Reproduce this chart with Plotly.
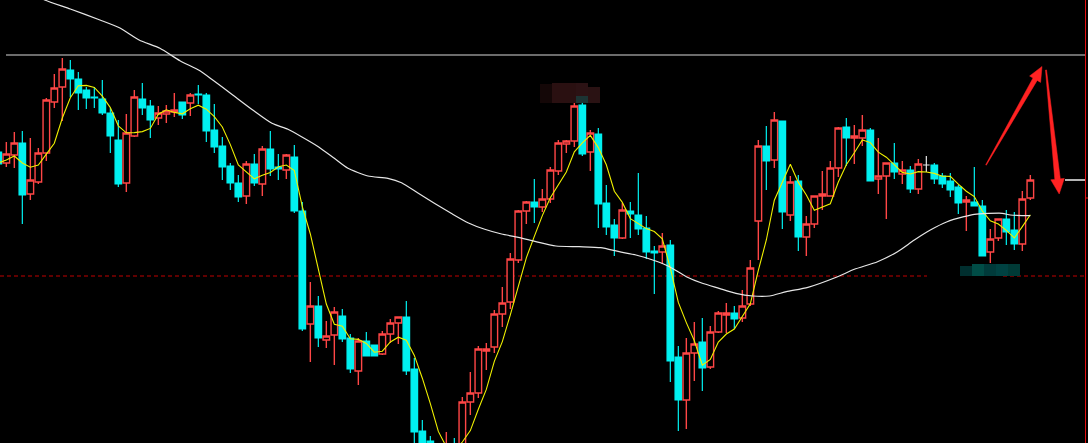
import plotly.graph_objects as go
import pandas as pd

W, H = 1088, 443

# ---------------- data (price units, arbitrary scale) ----------------
open_ = [308, 297, 305, 317, 266, 278, 307, 358, 373, 390,
         381, 370, 363, 361, 347, 320, 277, 324, 361, 354,
         342, 346, 348, 358, 357, 366, 365, 330, 314, 294,
         277, 264, 296, 276, 311, 293, 290, 303, 249, 136,
         154, 120, 125, 144, 122, 89, 119, 115, 106, 126,
         137, 143, 91, 29, 19, 10, 5, 14, 10, 58,
         67, 109, 113, 146, 158, 200, 249, 258, 253, 261,
         289, 316, 319, 355, 308, 326, 257, 235, 222, 249,
         245, 232, 209, 208, 215, 103, 60, 107, 118, 93,
         128, 145, 147, 142, 156, 239, 314, 300, 339, 245,
         279, 223, 236, 264, 264, 292, 333, 322, 322, 330,
         281, 284, 297, 286, 290, 271, 295, 295, 284, 279,
         273, 258, 258, 254, 208, 222, 241, 230, 216, 262]

high = [310, 318, 328, 329, 322, 312, 362, 386, 402, 400,
        388, 373, 373, 380, 352, 340, 346, 370, 377, 360,
        354, 355, 367, 358, 367, 375, 367, 356, 323, 297,
        285, 299, 306, 314, 329, 306, 306, 315, 258, 178,
        164, 139, 153, 151, 126, 122, 128, 115, 129, 141,
        143, 159, 102, 40, 24, 15, 28, 22, 63, 88,
        114, 117, 150, 173, 207, 250, 259, 281, 271, 293,
        320, 320, 357, 357, 330, 332, 275, 241, 257, 258,
        287, 244, 214, 227, 220, 114, 122, 138, 142, 134,
        149, 157, 154, 170, 200, 320, 334, 348, 339, 284,
        285, 244, 264, 289, 299, 333, 342, 335, 345, 332,
        322, 297, 317, 299, 294, 301, 304, 297, 287, 287,
        275, 264, 293, 260, 231, 241, 250, 248, 269, 285]

low = [294, 293, 292, 236, 260, 276, 299, 352, 339, 363,
       350, 351, 352, 345, 307, 273, 268, 323, 345, 322,
       335, 337, 343, 341, 344, 356, 318, 307, 280, 270,
       258, 256, 274, 264, 284, 280, 281, 247, 129, 98,
       113, 112, 95, 118, 87, 75, 104, 104, 105, 117,
       116, 85, 10, 5, 3, 1, 2, 2, 5, 45,
       62, 90, 107, 133, 151, 197, 236, 237, 248, 257,
       285, 307, 313, 304, 289, 232, 225, 204, 221, 222,
       225, 201, 166, 196, 78, 29, 31, 79, 69, 91,
       127, 127, 131, 138, 154, 200, 270, 292, 231, 239,
       209, 204, 232, 250, 264, 283, 294, 296, 314, 279,
       266, 241, 281, 276, 267, 266, 288, 276, 272, 263,
       246, 229, 254, 204, 197, 219, 215, 210, 209, 260]

close = [296, 306, 317, 265, 280, 307, 360, 372, 391, 381,
         367, 362, 362, 347, 324, 276, 327, 363, 352, 340,
         347, 349, 350, 345, 365, 365, 329, 313, 293, 277,
         263, 296, 277, 311, 291, 291, 305, 249, 131, 154,
         122, 124, 148, 121, 91, 119, 104, 104, 126, 137,
         143, 89, 28, 12, 10, 4, 12, 6, 58, 67,
         111, 111, 146, 157, 201, 249, 258, 253, 261, 290,
         317, 319, 354, 306, 327, 256, 233, 222, 250, 246,
         231, 208, 207, 214, 99, 60, 107, 116, 92, 128,
         147, 147, 141, 154, 192, 314, 299, 340, 248, 278,
         223, 236, 264, 266, 292, 332, 322, 324, 330, 279,
         284, 297, 288, 290, 271, 296, 295, 281, 276, 270,
         257, 260, 254, 204, 221, 241, 228, 216, 261, 280]

# flat (doji) candle drawn in white
doji_idx = [116]

# first values of the short moving average (earlier history not shown)
ma5_head = [297, 300, 304, 297]

# long moving average (candle position, value)
long_ma_pos = [4, 5.8, 9.0, 12.7, 15.2, 17.6, 20.2, 22.7, 25.2, 26.8, 29.3, 31.8,
               34.2, 36.2, 37.9, 40.0, 42.0, 43.7, 46.2, 48.7, 50.4, 52.5, 54.5,
               56.6, 58.7, 60.8, 62.9, 65.0, 67.2, 69.7, 72.6, 75.3, 77.6, 79.7,
               81.8, 83.9, 86.0, 88.0, 90.1, 92.2, 94.3, 96.4, 98.5, 101.2, 104.9,
               107.0, 109.9, 112.4, 114.5, 116.5, 118.6, 120.7, 122.0, 125.5,
               126.5, 129.0]
long_ma_val = [468, 460, 451, 440, 432, 420, 411.7, 399.3, 389.3, 380, 365, 350,
               336.7, 330.7, 323.3, 313.3, 301.7, 291.7, 284, 281.7, 277.3, 266.7,
               256.7, 246.7, 237.3, 230.7, 226, 222.7, 218.3, 214, 213.3, 212.3,
               208.3, 205, 200, 193.3, 183.3, 176.7, 171.7, 166.7, 164, 164, 168.3,
               172.7, 183.3, 190.7, 198.3, 208.3, 220, 230, 238.3, 243.3, 245.7,
               246.7, 245, 244.3]

# reference levels
upper_level = 405
lower_level = 184

# ---------------- styling ----------------
RED = "#FF4646"
CYAN = "#00F0F0"
YELLOW = "#F0F000"
WHITE = "#E6E6E6"
ARROW = "#FF2222"

n = len(close)
xs = list(range(n))
main = [i for i in xs if i not in doji_idx]

fig = go.Figure()
fig.add_trace(go.Candlestick(
    x=main,
    open=[open_[i] for i in main], high=[high[i] for i in main],
    low=[low[i] for i in main], close=[close[i] for i in main],
    increasing=dict(line=dict(color=RED, width=1.4), fillcolor="#000000"),
    decreasing=dict(line=dict(color=CYAN, width=1.2), fillcolor=CYAN),
    whiskerwidth=0, hoverinfo="skip", showlegend=False))
fig.add_trace(go.Candlestick(
    x=doji_idx,
    open=[open_[i] for i in doji_idx], high=[high[i] for i in doji_idx],
    low=[low[i] for i in doji_idx], close=[close[i] for i in doji_idx],
    increasing=dict(line=dict(color=WHITE, width=1.2), fillcolor=WHITE),
    decreasing=dict(line=dict(color=WHITE, width=1.2), fillcolor=WHITE),
    whiskerwidth=0, hoverinfo="skip", showlegend=False))

ma5 = pd.Series(close, dtype=float).rolling(5).mean()
ma5.iloc[:4] = ma5_head
fig.add_trace(go.Scatter(x=xs, y=ma5, mode="lines",
                         line=dict(color=YELLOW, width=1.1), hoverinfo="skip"))
fig.add_trace(go.Scatter(x=long_ma_pos, y=long_ma_val, mode="lines",
                         line=dict(color=WHITE, width=1.2, shape="spline", smoothing=0.6),
                         hoverinfo="skip"))


def px(x):
    return x / W


def py(y):
    return 1 - y / H


shapes = []
# horizontal levels
shapes.append(dict(type="line", xref="paper", yref="y", x0=px(6), x1=px(1085),
                   y0=upper_level, y1=upper_level, line=dict(color="#D8D8D8", width=1)))
for a, b in [(0, 927), (1003, 1085)]:
    shapes.append(dict(type="line", xref="paper", yref="y", x0=px(a), x1=px(b),
                       y0=lower_level, y1=lower_level, layer="below",
                       line=dict(color="#C00000", width=1, dash="4px,3px")))
# right edge marker line
shapes.append(dict(type="line", xref="paper", yref="paper", x0=px(1085.5), x1=px(1085.5),
                   y0=0, y1=1, line=dict(color="#E01010", width=1)))
shapes.append(dict(type="line", xref="paper", yref="paper", x0=px(1085.5), x1=px(1088),
                   y0=py(198), y1=py(198), line=dict(color="#E01010", width=1)))
# last price marker
shapes.append(dict(type="line", xref="paper", yref="y", x0=px(1065), x1=px(1085),
                   y0=close[-1], y1=close[-1], line=dict(color="#F0F0F0", width=1.5)))


def poly(points):
    s = "M " + " L ".join(f"{px(x):.5f},{py(y):.5f}" for x, y in points) + " Z"
    return s


arrow_up = [(986.3, 165.2), (1037.2, 80.4), (1040.6, 82.4), (1042, 66.5),
            (1029.6, 76.0), (1033.0, 78.0), (985.7, 164.8)]
arrow_down = [(1046.5, 69.9), (1060.3, 178.8), (1064.3, 178.4), (1059.2, 194),
              (1050.8, 179.8), (1054.8, 179.4), (1045.5, 70.1)]
for pts in (arrow_up, arrow_down):
    shapes.append(dict(type="path", xref="paper", yref="paper", path=poly(pts),
                       fillcolor=ARROW, line=dict(color=ARROW, width=0.5)))

# blurred label patches
patches = [
    (540, 552, 84, 103, "#140707"), (552, 576, 83, 103, "#2A1011"),
    (576, 588, 83, 96, "#2C1214"), (576, 588, 96, 103, "#1C3434"),
    (588, 600, 87, 103, "#2A1213"),
    (960, 972, 266, 276, "#002E2E"), (972, 984, 264, 276, "#004C46"),
    (984, 996, 264, 276, "#003A3A"), (996, 1008, 264, 276, "#004242"),
    (1008, 1020, 264, 276, "#003A36"),
]
for x0, x1, y0, y1, c in patches:
    shapes.append(dict(type="rect", xref="paper", yref="paper",
                       x0=px(x0), x1=px(x1), y0=py(y1), y1=py(y0),
                       fillcolor=c, line=dict(width=0)))

r0 = 0.209
fig.update_layout(
    width=W, height=H,
    margin=dict(l=0, r=0, t=0, b=0, pad=0),
    paper_bgcolor="#000000", plot_bgcolor="#000000",
    showlegend=False, hovermode=False,
    boxgap=0.18, boxgroupgap=0,
    xaxis=dict(range=[r0, r0 + W / 8], visible=False, showgrid=False,
               zeroline=False, rangeslider=dict(visible=False)),
    yaxis=dict(range=[17, 460], visible=False, showgrid=False, zeroline=False),
    shapes=shapes,
)

fig.write_html("out.html", config={"displayModeBar": False},
               post_script="document.body.style.margin='0';document.body.style.overflow='hidden';")
